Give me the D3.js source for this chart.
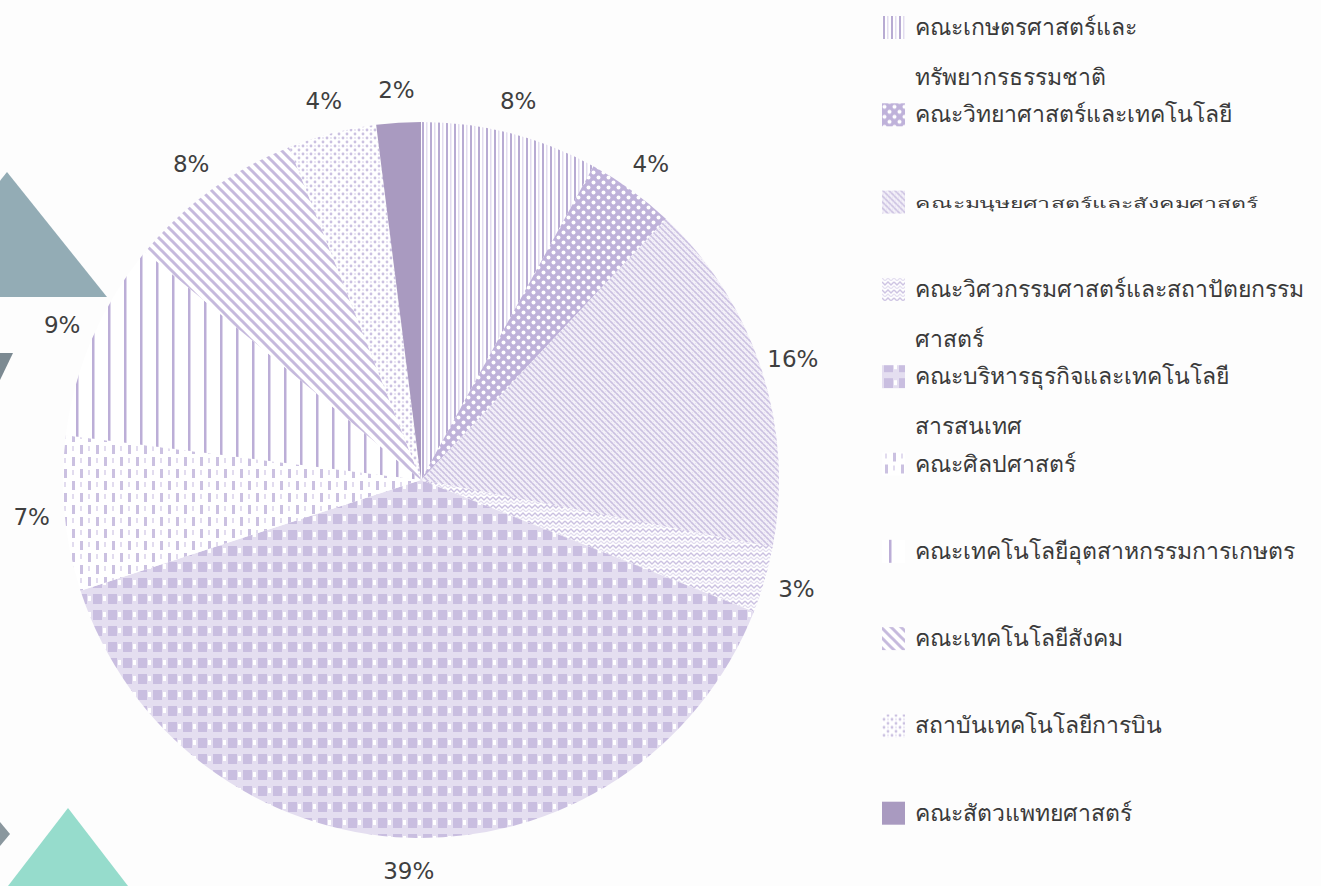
<!DOCTYPE html>
<html>
<head>
<meta charset="utf-8">
<script src="https://cdn.jsdelivr.net/npm/d3@7"></script>
<style>
  html, body { margin: 0; padding: 0; background: #fdfdfd; }
  svg { display: block; }
  text { font-family: Tahoma, "DejaVu Sans", "Noto Sans", sans-serif; }
</style>
</head>
<body>
<svg id="chart" width="1321" height="886"></svg>
<script>
// Faculty names (legend lines) and their share of the total, in percent
const faculties = [
  ["คณะเกษตรศาสตร์และ", "ทรัพยากรธรรมชาติ"],
  ["คณะวิทยาศาสตร์และเทคโนโลยี"],
  ["คณะมนุษยศาสตร์และสังคมศาสตร์"],
  ["คณะวิศวกรรมศาสตร์และสถาปัตยกรรม", "ศาสตร์"],
  ["คณะบริหารธุรกิจและเทคโนโลยี", "สารสนเทศ"],
  ["คณะศิลปศาสตร์"],
  ["คณะเทคโนโลยีอุตสาหกรรมการเกษตร"],
  ["คณะเทคโนโลยีสังคม"],
  ["สถาบันเทคโนโลยีการบิน"],
  ["คณะสัตวแพทยศาสตร์"]
];
const shares = [8, 4, 16, 3, 39, 7, 9, 8, 4, 2];
const patternIds = ["pVert", "pBubble", "pFine", "pWave", "pGrid", "pDash", "pWide", "pDiag", "pDots", "pSolid"];

const svg = d3.select("#chart");
const defs = svg.append("defs");

const DARK = "#b8abd3", MID = "#cbc1e1", LIGHT = "#e2dcef", SOLID = "#a99ac0";

function pattern(id, w, h, draw, bg) {
  const p = defs.append("pattern").attr("id", id)
    .attr("patternUnits", "userSpaceOnUse").attr("width", w).attr("height", h);
  p.append("rect").attr("width", w).attr("height", h).attr("fill", bg || "#ffffff");
  draw(p);
}
// narrow vertical stripes
pattern("pVert", 8, 8, p => {
  p.append("rect").attr("x", 1).attr("width", 2).attr("height", 8).attr("fill", DARK);
  p.append("rect").attr("x", 5).attr("width", 1.5).attr("height", 8).attr("fill", LIGHT);
});
// ring / bubble lattice
pattern("pBubble", 10, 10, p => {
  p.append("circle").attr("cx", 2.5).attr("cy", 2.5).attr("r", 2).attr("fill", "#fff");
  p.append("circle").attr("cx", 7.5).attr("cy", 7.5).attr("r", 2).attr("fill", "#fff");
}, "#bfb2da");
// fine diagonal trellis
pattern("pFine", 6, 6, p => {
  p.append("path").attr("d", "M0,0L6,6M-3,3L3,9M3,-3L9,3").attr("stroke", MID).attr("stroke-width", 1.6);
  p.append("path").attr("d", "M0,6L6,0").attr("stroke", LIGHT).attr("stroke-width", 0.8);
}, "#f4f1f9");
// horizontal zigzag waves
pattern("pWave", 12, 8, p => {
  p.append("path").attr("d", "M0,1L3,4L6,1L9,4L12,1").attr("fill", "none").attr("stroke", MID).attr("stroke-width", 1.4);
  p.append("path").attr("d", "M0,5L3,8L6,5L9,8L12,5").attr("fill", "none").attr("stroke", LIGHT).attr("stroke-width", 1.2);
});
// block grid
pattern("pGrid", 15, 16, p => {
  p.append("rect").attr("x", 2).attr("y", 2).attr("width", 9).attr("height", 10).attr("fill", "#c9bee0");
  p.append("rect").attr("x", 12).attr("y", 4).attr("width", 3).attr("height", 5).attr("fill", "#ffffff");
}, "#e4def0");
// staggered vertical dashes
pattern("pDash", 16, 24, p => {
  p.append("rect").attr("x", 3).attr("y", 1).attr("width", 3).attr("height", 9).attr("fill", MID);
  p.append("rect").attr("x", 11).attr("y", 13).attr("width", 3).attr("height", 9).attr("fill", MID);
  p.append("rect").attr("x", 11).attr("y", 2).attr("width", 2).attr("height", 5).attr("fill", LIGHT);
  p.append("rect").attr("x", 3).attr("y", 14).attr("width", 2).attr("height", 5).attr("fill", LIGHT);
});
// wide vertical lines
pattern("pWide", 16, 16, p => {
  p.append("rect").attr("x", 7).attr("width", 2.5).attr("height", 16).attr("fill", "#bcaed7");
});
// diagonal stripes
pattern("pDiag", 10, 10, p => {
  p.append("path").attr("d", "M0,0L10,10M-5,5L5,15M5,-5L15,5").attr("stroke", "#c6badd").attr("stroke-width", 3);
});
// scattered dots
pattern("pDots", 8, 8, p => {
  p.append("circle").attr("cx", 2).attr("cy", 2).attr("r", 1.4).attr("fill", MID);
  p.append("circle").attr("cx", 6).attr("cy", 6).attr("r", 1.4).attr("fill", MID);
  p.append("circle").attr("cx", 6).attr("cy", 2).attr("r", 0.9).attr("fill", LIGHT);
});
pattern("pSolid", 4, 4, p => {}, SOLID);

// decorative background shapes on the left edge
const deco = svg.append("g");
deco.append("path").attr("d", "M7,172L107,297L-93,297Z").attr("fill", "#93acb5");
deco.append("path").attr("d", "M0,353L13,353L0,380Z").attr("fill", "#7c8a92");
deco.append("path").attr("d", "M68,808L128,886L8,886Z").attr("fill", "#96dccc");
deco.append("path").attr("d", "M0,822L10,834L0,846Z").attr("fill", "#8a979e");

// pie
const cx = 421, cy = 480, radius = 358;
const pie = d3.pie().sort(null).value(d => d);
const arcs = pie(shares);
const arc = d3.arc().innerRadius(0).outerRadius(radius);
const labelArc = d3.arc().innerRadius(radius + 33).outerRadius(radius + 33);

const g = svg.append("g").attr("transform", `translate(${cx},${cy})`);
g.selectAll("path.slice").data(arcs).join("path")
  .attr("class", "slice")
  .attr("d", arc)
  .attr("fill", (d, i) => `url(#${patternIds[i]})`);

g.selectAll("text.pct").data(arcs).join("text")
  .attr("class", "pct")
  .attr("transform", d => `translate(${labelArc.centroid(d)})`)
  .attr("text-anchor", "middle")
  .attr("dominant-baseline", "central")
  .attr("font-size", 23)
  .attr("fill", "#3f3f3f")
  .text(d => d.data + "%");

// legend
const legend = svg.append("g").attr("transform", "translate(882,27)");
const rowStep = 87.3, lineStep = 50;
const rows = legend.selectAll("g.item").data(faculties).join("g")
  .attr("class", "item")
  .attr("transform", (d, i) => `translate(0,${i * rowStep})`);
rows.append("rect")
  .attr("x", 0).attr("y", -11).attr("width", 23).attr("height", 23)
  .attr("fill", (d, i) => `url(#${patternIds[i]})`);
rows.each(function (lines, i) {
  const t = d3.select(this).append("text")
    .attr("x", 33)
    .attr("font-size", 23)
    .attr("fill", "#3a3a3a")
    .attr("dominant-baseline", "central");
  if (i === 2) t.attr("transform", "translate(0,1) scale(1,0.6)");
  lines.forEach((line, k) => {
    t.append("tspan").attr("x", 33).attr("y", k * lineStep).text(line);
  });
});
</script>
</body>
</html>
